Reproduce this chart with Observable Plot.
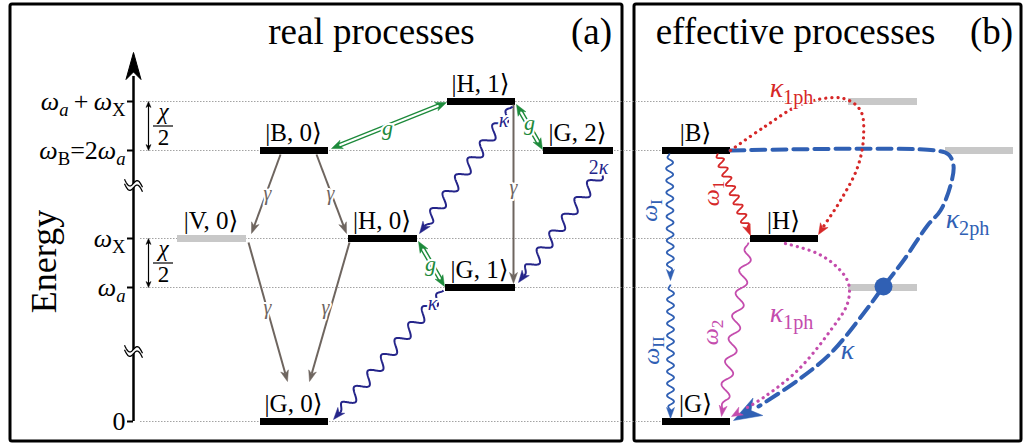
<!DOCTYPE html>
<html><head><meta charset="utf-8">
<script src="https://cdn.jsdelivr.net/npm/d3@7"></script>
<script src="https://cdn.jsdelivr.net/npm/@observablehq/plot@0.6"></script>
<style>body{margin:0;background:#fff} svg{display:block}</style>
</head><body><div id="chart"></div>
<script>
// ================= DATA =================
// Energy in display units (0 = ground); x in layout units across the figure
const energyTicks = [0, 134, 183, 271, 320];
const energyTickLabels = ["0", "ω_a", "ω_X", "ω_B=2ω_a", "ω_a\u2009+\u2009ω_X"];

const levelsA = [
  {state: "|B, 0⟩", x1: 260, x2: 328, e: 271},
  {state: "|H, 1⟩", x1: 447, x2: 515, e: 320},
  {state: "|G, 2⟩", x1: 543, x2: 613, e: 271},
  {state: "|H, 0⟩", x1: 348, x2: 417, e: 183},
  {state: "|G, 1⟩", x1: 445, x2: 515, e: 134},
  {state: "|G, 0⟩", x1: 260, x2: 328, e: 0}
];
const virtualLevelsA = [{state: "|V, 0⟩", x1: 177, x2: 246, e: 183}];
const levelsB = [
  {state: "|B⟩", x1: 662, x2: 730, e: 271},
  {state: "|H⟩", x1: 750, x2: 818, e: 183},
  {state: "|G⟩", x1: 662, x2: 730, e: 0}
];
const virtualLevelsB = [
  {x1: 848, x2: 917, e: 320},
  {x1: 945, x2: 1013, e: 271},
  {x1: 848, x2: 917, e: 134}
];
const guideLines = [
  {e: 320, x2: 848}, {e: 271, x2: 662}, {e: 183, x2: 750}, {e: 134, x2: 848}, {e: 0, x2: 662}
];
const chiSplits = [{e1: 320, e2: 271}, {e1: 183, e2: 134}];
const axisBreaks = [236, 70];

// (a) real processes
const decayGamma = [
  {x1: 280, e1: 267, x2: 251, e2: 188},
  {x1: 316, e1: 267, x2: 346, e2: 188},
  {x1: 248, e1: 179, x2: 287, e2: 40},
  {x1: 349, e1: 179, x2: 309, e2: 40},
  {x1: 513, e1: 317, x2: 513, e2: 138}
];
const gammaLabels = [{x: 267, e: 228}, {x: 330, e: 228}, {x: 267, e: 114}, {x: 325, e: 114}, {x: 513, e: 234}];
const couplingG = [
  {x1: 331, e1: 273, x2: 446, e2: 319, lx: 387, le: 294},
  {x1: 516, e1: 317, x2: 542, e2: 272, lx: 529, le: 299},
  {x1: 418, e1: 180, x2: 444, e2: 135, lx: 430, le: 158}
];
const cavityKappa = [
  {x1: 512, e1: 315, x2: 419, e2: 188, label: "κ", lx: 503, le: 301},
  {x1: 607, e1: 258, x2: 518, e2: 139, label: "2κ", lx: 598, le: 254},
  {x1: 443, e1: 131, x2: 333, e2: 2, label: "κ", lx: 432, le: 118}
];

// (b) effective processes
const blueWaves = [
  {x1: 669, e1: 268, x2: 670, e2: 141, label: "ω_I", lx: 649, le: 211},
  {x1: 670, e1: 137, x2: 670, e2: 3, label: "ω_{II}", lx: 651, le: 71}
];
const redWave = [{x1: 717, e1: 268, x2: 750, e2: 186, label: "ω_1", lx: 711, le: 228}];
const pinkWave = [{x1: 748, e1: 179, x2: 721, e2: 5, label: "ω_2", lx: 710, le: 89}];
const kappa1phRed = [[730,271],[763,294],[803,318],[843,323],[860,311],[863,284],[857,254],[840,221],[827,201],[823,195]];
const kappa1phRedHead = [{x1: 826, e1: 200, x2: 818, e2: 187}];
const kappa2ph = [[730,271],[935,271],[948,267],[953,256],[950,236],[940,211],[927,196],[903,161],[883,135],[863,108],[830,68],[797,41],[758,15]];
const kappa2phHead = [{x1: 765, e1: 19, x2: 733, e2: 1}];
const kappa1phPink = [[785,178],[817,168],[837,154],[848,138],[847,118],[830,91],[797,51],[763,24],[745,13]];
const kappa1phPinkHead = [{x1: 752, e1: 17, x2: 731, e2: 5}];
const virtualDot = [{x: 883, e: 135}];
const labelsB = [
  {text: "κ_{1ph}", x: 791, e: 333, color: "red"},
  {text: "κ_{2ph}", x: 967, e: 202, color: "blue"},
  {text: "κ", x: 847, e: 71, color: "blue"},
  {text: "κ_{1ph}", x: 791, e: 108, color: "pink"}
];
const panels = [{x1: 10, x2: 622, e1: -20, e2: 417}, {x1: 634, x2: 1021, e1: -20, e2: 417}];
const panelTitles = [
  {text: "real processes", x: 371, e: 378},
  {text: "(a)", x: 591, e: 378},
  {text: "effective processes", x: 795, e: 378},
  {text: "(b)", x: 991, e: 378}
];

// ================= STYLE =================
const C = {gamma: "#6e655f", green: "#1d8a3b", navy: "#25258a", blue: "#3060b4", red: "#d62828", pink: "#c44cad", gray: "#c8c8c8"};
const colorOf = {red: C.red, blue: C.blue, pink: C.pink};
const AXIS_X = 133;
const serif = "'Liberation Serif', 'DejaVu Serif', serif";

// ---- custom curve factories (d3 curve protocol) ----
function unit(a, b) {
  const dx = b[0] - a[0], dy = b[1] - a[1], L = Math.hypot(dx, dy) || 1;
  return {ux: dx / L, uy: dy / L, nx: -dy / L, ny: dx / L, L};
}
function collector(draw) {
  return ctx => { let pts; return {
    lineStart() { pts = []; }, point(x, y) { pts.push([+x, +y]); },
    lineEnd() { draw(ctx, pts[0], pts[pts.length - 1]); },
    areaStart() {}, areaEnd() {}
  }; };
}
function drawHead(ctx, from, tip, len, w) {
  const {ux, uy, nx, ny} = unit(from, tip);
  const bx = tip[0] - ux * len, by = tip[1] - uy * len;
  ctx.moveTo(tip[0], tip[1]);
  ctx.lineTo(bx + nx * w / 2, by + ny * w / 2);
  ctx.lineTo(tip[0] - ux * len * 0.72, tip[1] - uy * len * 0.72);
  ctx.lineTo(bx - nx * w / 2, by - ny * w / 2);
  ctx.closePath();
}
const headCurve = (len, w, both = false) => collector((ctx, a, b) => {
  drawHead(ctx, a, b, len, w);
  if (both) drawHead(ctx, b, a, len, w);
});
const trimCurve = (t0, t1) => collector((ctx, a, b) => {
  const {ux, uy, L} = unit(a, b);
  ctx.moveTo(a[0] + ux * t0, a[1] + uy * t0);
  ctx.lineTo(a[0] + ux * (L - t1), a[1] + uy * (L - t1));
});
const doubleCurve = (gap, trim) => collector((ctx, a, b) => {
  const {ux, uy, nx, ny, L} = unit(a, b);
  for (const s of [-1, 1]) {
    const ox = nx * gap / 2 * s, oy = ny * gap / 2 * s;
    ctx.moveTo(a[0] + ux * trim + ox, a[1] + uy * trim + oy);
    ctx.lineTo(a[0] + ux * (L - trim) + ox, a[1] + uy * (L - trim) + oy);
  }
});
const waveCurve = (wl, amp, headLen) => collector((ctx, a, b) => {
  const {ux, uy, nx, ny, L} = unit(a, b);
  const end = L - headLen * 0.75, ramp = wl * 0.5;
  ctx.moveTo(a[0], a[1]);
  for (let s = 0.5; s <= end; s += 0.5) {
    const env = Math.max(0, Math.min(1, s / ramp, (end - s) / ramp));
    const o = amp * env * Math.sin(2 * Math.PI * s / wl);
    ctx.lineTo(a[0] + ux * s + nx * o, a[1] + uy * s + ny * o);
  }
});
// axis-break glyph: a tilted tilde ribbon centred on the (single) link point
function tildePoint(c, t, off) {
  return [c[0] + 9 * t, c[1] + 4 * t - 4.5 * Math.sin(Math.PI * t) + off];
}
const breakRibbon = collector((ctx, c) => {
  const n = 24;
  for (let i = 0; i <= n; i++) { const p = tildePoint(c, -1 + 2 * i / n, -2.2); i ? ctx.lineTo(p[0], p[1]) : ctx.moveTo(p[0], p[1]); }
  for (let i = n; i >= 0; i--) { const p = tildePoint(c, -1 + 2 * i / n, 2.2); ctx.lineTo(p[0], p[1]); }
  ctx.closePath();
});
const breakEdges = collector((ctx, c) => {
  const n = 24;
  for (const off of [-2.2, 2.2]) {
    for (let i = 0; i <= n; i++) { const p = tildePoint(c, -1 + 2 * i / n, off); i ? ctx.lineTo(p[0], p[1]) : ctx.moveTo(p[0], p[1]); }
  }
});

const L = {x1: "x1", y1: "e1", x2: "x2", y2: "e2"};
const halo = {stroke: "white", strokeWidth: 4, paintOrder: "stroke"};
const pathXY = {x: d => d[0], y: d => d[1]};
const tickLabelOf = new Map(energyTicks.map((e, i) => [e, energyTickLabels[i]]));

const chart = Plot.plot({
  width: 1027, height: 446,
  marginLeft: AXIS_X, marginRight: 0, marginTop: 0, marginBottom: 0,
  x: {domain: [AXIS_X, 1027], axis: null},
  y: {domain: [-25, 421], axis: null},
  style: {fontFamily: serif, background: "white", color: "black"},
  marks: [
    // panel frames
    Plot.rect(panels, {x1: "x1", x2: "x2", y1: "e1", y2: "e2", fill: "none", stroke: "black", strokeWidth: 3, rx: 2}),
    // dotted energy guides
    Plot.ruleY(guideLines, {y: "e", x1: AXIS_X + 7, x2: "x2", stroke: "#a3a3a3", strokeWidth: 1, strokeDasharray: "1.5,1.5"}),
    // energy axis
    Plot.ruleX([AXIS_X], {y1: 0, y2: 345, stroke: "black", strokeWidth: 2.5}),
    Plot.link([{e1: 330, e2: 369}], {x1: AXIS_X, x2: AXIS_X, y1: "e1", y2: "e2", curve: headCurve(27, 15), fill: "black", stroke: "black", strokeWidth: 1}),
    Plot.axisY({ticks: energyTicks, tickFormat: d => tickLabelOf.get(d), tickSize: 6, tickPadding: 2, fontSize: 26, strokeWidth: 2}),
    Plot.link(axisBreaks, {x1: AXIS_X, x2: AXIS_X, y1: d => d, y2: d => d, curve: breakRibbon, fill: "white", stroke: "none"}),
    Plot.link(axisBreaks, {x1: AXIS_X, x2: AXIS_X, y1: d => d, y2: d => d, curve: breakEdges, stroke: "black", strokeWidth: 1.3}),
    // chi/2 splittings
    Plot.link(chiSplits, {x1: 148, x2: 148, y1: "e1", y2: "e2", curve: trimCurve(3, 3), stroke: "black", strokeWidth: 1.2}),
    Plot.link(chiSplits, {x1: 148, x2: 148, y1: "e1", y2: "e2", curve: headCurve(6, 5, true), fill: "black", stroke: "black", strokeWidth: 0.5}),
    Plot.ruleY(chiSplits, {y: d => (d.e1 + d.e2) / 2, x1: 153, x2: 173, stroke: "black", strokeWidth: 1.2}),
    Plot.text(chiSplits, {x: 163, y: d => (d.e1 + d.e2) / 2 + 7, text: () => "χ", lineAnchor: "bottom", fontSize: 23, fontStyle: "italic"}),
    Plot.text(chiSplits, {x: 163, y: d => (d.e1 + d.e2) / 2 - 3, text: () => "2", lineAnchor: "top", fontSize: 23}),
    // level bars
    Plot.ruleY([...virtualLevelsA, ...virtualLevelsB], {y: "e", x1: "x1", x2: "x2", stroke: C.gray, strokeWidth: 7}),
    Plot.ruleY([...levelsA, ...levelsB], {y: "e", x1: "x1", x2: "x2", stroke: "black", strokeWidth: 7}),
    // (a) gamma decays
    Plot.link(decayGamma, {...L, curve: trimCurve(0, 8), stroke: C.gamma, strokeWidth: 2}),
    Plot.link(decayGamma, {...L, curve: headCurve(11, 8), fill: C.gamma, stroke: C.gamma, strokeWidth: 0.5}),
    Plot.text(gammaLabels, {x: "x", y: "e", text: () => "γ", fontSize: 20, fontStyle: "italic", fill: C.gamma, ...halo}),
    // (a) coherent coupling g
    Plot.link(couplingG, {...L, curve: doubleCurve(3.6, 8), stroke: C.green, strokeWidth: 1.4}),
    Plot.link(couplingG, {...L, curve: headCurve(11, 9, true), fill: C.green, stroke: C.green, strokeWidth: 0.5}),
    Plot.text(couplingG, {x: "lx", y: "le", text: () => "g", fontSize: 22, fontStyle: "italic", fill: C.green, ...halo}),
    // (a) cavity losses
    Plot.link(cavityKappa, {...L, curve: waveCurve(21, 5.5, 11), stroke: C.navy, strokeWidth: 2}),
    Plot.link(cavityKappa, {...L, curve: headCurve(12, 9), fill: C.navy, stroke: C.navy, strokeWidth: 0.5}),
    Plot.text(cavityKappa, {x: "lx", y: "le", text: "label", fontSize: 20, fill: C.navy, ...halo}),
    // (b) two-photon dashed path
    Plot.line(kappa2ph, {...pathXY, curve: "catmull-rom", stroke: C.blue, strokeWidth: 4, strokeDasharray: "14,7"}),
    Plot.link(kappa2phHead, {...L, curve: headCurve(28, 20), fill: C.blue, stroke: C.blue, strokeWidth: 0.5}),
    Plot.dot(virtualDot, {x: "x", y: "e", r: 9, fill: C.blue}),
    // (b) one-photon dotted paths
    Plot.line(kappa1phRed, {...pathXY, curve: "catmull-rom", stroke: C.red, strokeWidth: 3.2, strokeDasharray: "0.1,6", strokeLinecap: "round"}),
    Plot.link(kappa1phRedHead, {...L, curve: headCurve(11, 9), fill: C.red, stroke: C.red, strokeWidth: 0.5}),
    Plot.line(kappa1phPink, {...pathXY, curve: "catmull-rom", stroke: C.pink, strokeWidth: 3.2, strokeDasharray: "0.1,6", strokeLinecap: "round"}),
    Plot.link(kappa1phPinkHead, {...L, curve: headCurve(11, 9), fill: C.pink, stroke: C.pink, strokeWidth: 0.5}),
    // (b) frequency-resolved emissions
    Plot.link(blueWaves, {...L, curve: waveCurve(12, 3.5, 10), stroke: C.blue, strokeWidth: 1.8}),
    Plot.link(blueWaves, {...L, curve: headCurve(11, 8), fill: C.blue, stroke: C.blue, strokeWidth: 0.5}),
    Plot.text(blueWaves, {x: "lx", y: "le", text: "label", rotate: -90, fontSize: 24, fill: C.blue}),
    Plot.link(redWave, {...L, curve: waveCurve(10, 4, 10), stroke: C.red, strokeWidth: 1.8}),
    Plot.link(redWave, {...L, curve: headCurve(11, 8), fill: C.red, stroke: C.red, strokeWidth: 0.5}),
    Plot.text(redWave, {x: "lx", y: "le", text: "label", rotate: -90, fontSize: 24, fill: C.red}),
    Plot.link(pinkWave, {...L, curve: waveCurve(23, 5, 10), stroke: C.pink, strokeWidth: 1.8}),
    Plot.link(pinkWave, {...L, curve: headCurve(11, 8), fill: C.pink, stroke: C.pink, strokeWidth: 0.5}),
    Plot.text(pinkWave, {x: "lx", y: "le", text: "label", rotate: -90, fontSize: 24, fill: C.pink}),
    Plot.text(labelsB, {x: "x", y: "e", text: "text", fontSize: 28, fill: d => colorOf[d.color], stroke: "white", strokeWidth: 3, paintOrder: "stroke"}),
    // state labels
    Plot.text([...levelsA, ...virtualLevelsA, ...levelsB], {x: d => (d.x1 + d.x2) / 2 - 1, y: d => d.e + 10, text: "state", lineAnchor: "bottom", fontSize: 25}),
    // titles and axis label
    Plot.text(panelTitles, {x: "x", y: "e", text: "text", lineAnchor: "bottom", fontSize: 37}),
    Plot.text([{text: "Energy", x: 55, e: 160}], {x: "x", y: "e", text: "text", rotate: -90, lineAnchor: "bottom", fontSize: 36})
  ]
});
document.getElementById("chart").appendChild(chart);

// ---- math-style rich text: italic Greek, subscripts via _x or _{xx} ----
function richify(svg) {
  svg.querySelectorAll("text").forEach(t => {
    const s = t.textContent;
    if (!/[_\u0370-\u03ff]/.test(s)) return;
    const fs = parseFloat(getComputedStyle(t).fontSize) || 20;
    const parts = [];
    for (let i = 0; i < s.length;) {
      const c = s[i];
      if (c === "_") {
        let sub;
        if (s[i + 1] === "{") { const j = s.indexOf("}", i); sub = s.slice(i + 2, j); i = j + 1; }
        else { sub = s[i + 1]; i += 2; }
        parts.push({text: sub, sub: true});
      } else {
        const greek = /[\u0370-\u03ff]/.test(c);
        const last = parts[parts.length - 1];
        if (last && !last.sub && last.greek === greek) last.text += c;
        else parts.push({text: c, sub: false, greek});
        i++;
      }
    }
    while (t.firstChild) t.removeChild(t.firstChild);
    const shift = fs * 0.22;
    let shifted = false;
    for (const p of parts) {
      const ts = document.createElementNS("http://www.w3.org/2000/svg", "tspan");
      ts.textContent = p.text;
      if (p.sub) {
        ts.setAttribute("font-size", (fs * 0.72).toFixed(1));
        ts.setAttribute("font-style", /^[a-z]$/.test(p.text) ? "italic" : "normal");
        if (!shifted) { ts.setAttribute("dy", shift.toFixed(1)); shifted = true; }
      } else {
        ts.setAttribute("font-style", p.greek ? "italic" : "normal");
        if (shifted) { ts.setAttribute("dy", (-shift).toFixed(1)); shifted = false; }
      }
      t.appendChild(ts);
    }
  });
}
richify(chart);
</script>
</body></html>
